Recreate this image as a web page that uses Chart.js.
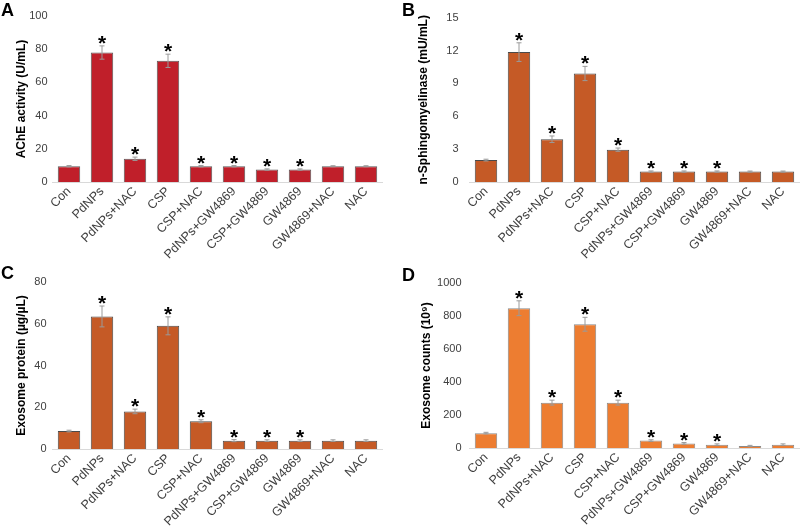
<!DOCTYPE html>
<html>
<head>
<meta charset="utf-8">
<script src="https://cdn.jsdelivr.net/npm/chart.js@4"></script>
<style>
  body { margin: 0; background: #fff; }
  #wrap { position: relative; width: 800px; height: 526px; }
  canvas { position: absolute; }
  .tag { position: absolute; font: bold 18px 'Liberation Sans', Arial, sans-serif; color: #000; line-height: 18px; }
</style>
</head>
<body>
<div id="wrap">
  <canvas id="cA" width="400" height="263" style="left:0;top:0"></canvas>
  <canvas id="cB" width="400" height="263" style="left:400px;top:0"></canvas>
  <canvas id="cC" width="400" height="263" style="left:0;top:263px"></canvas>
  <canvas id="cD" width="400" height="263" style="left:400px;top:263px"></canvas>
  <div class="tag" style="left:1px;top:1px">A</div>
  <div class="tag" style="left:402px;top:1px">B</div>
  <div class="tag" style="left:1px;top:264px">C</div>
  <div class="tag" style="left:402px;top:266px">D</div>
</div>
<script>
// groups on the x axis
const groups = ['Con', 'PdNPs', 'PdNPs+NAC', 'CSP', 'CSP+NAC', 'PdNPs+GW4869',
                'CSP+GW4869', 'GW4869', 'GW4869+NAC', 'NAC'];
// which groups get an asterisk
const starred = [false, true, true, true, true, true, true, true, false, false];

// A: AChE activity
const ache = [9.5, 78, 14, 73, 9.5, 9.5, 7.5, 7.5, 9.5, 9.5];
const acheErr = [0.4, 4, 1, 4, 0.4, 0.4, 0.4, 0.4, 0.3, 0.3];
// B: n-Sphingomyelinase
const smase = [2.0, 11.85, 3.9, 9.9, 2.95, 0.95, 0.95, 0.95, 0.95, 0.95];
const smaseErr = [0.08, 0.85, 0.3, 0.65, 0.15, 0.06, 0.06, 0.06, 0.05, 0.05];
// C: exosome protein
const protein = [8.6, 63.5, 18, 59, 13.3, 4, 4, 4, 4, 4];
const proteinErr = [0.4, 5, 1.1, 4.3, 0.7, 0.5, 0.4, 0.4, 0.4, 0.4];
// D: exosome counts
const counts = [90, 847, 275, 750, 275, 45, 28, 20, 12, 20];
const countsErr = [5, 45, 15, 42, 15, 5, 5, 5, 4, 5];

const fontFam = "'Liberation Sans', Arial, sans-serif";

// draws error bars and asterisks on top of the bars
const errorStars = {
  id: 'errorStars',
  afterDatasetsDraw(chart, args, opts) {
    const ctx = chart.ctx;
    const y = chart.scales.y;
    const meta = chart.getDatasetMeta(0);
    const vals = chart.data.datasets[0].data;
    meta.data.forEach((bar, i) => {
      const top = y.getPixelForValue(vals[i] + opts.err[i]);
      const bot = y.getPixelForValue(vals[i] - opts.err[i]);
      ctx.save();
      ctx.strokeStyle = '#9a9a9a';
      ctx.lineWidth = 1;
      ctx.beginPath();
      ctx.moveTo(bar.x, top); ctx.lineTo(bar.x, bot);
      ctx.moveTo(bar.x - 2.5, top); ctx.lineTo(bar.x + 2.5, top);
      ctx.moveTo(bar.x - 2.5, bot); ctx.lineTo(bar.x + 2.5, bot);
      ctx.stroke();
      if (starred[i]) {
        ctx.fillStyle = '#000';
        ctx.font = 'bold 21px ' + fontFam;
        ctx.textAlign = 'center';
        ctx.textBaseline = 'alphabetic';
        const m = ctx.measureText('*');
        ctx.fillText('*', bar.x, top - 2 - m.actualBoundingBoxDescent);
      }
      ctx.restore();
    });
  }
};

function panel(id, values, errs, color, border, yTitle, yMax, yStep, box) {
  new Chart(document.getElementById(id), {
    type: 'bar',
    data: {
      labels: groups,
      datasets: [{
        data: values,
        backgroundColor: color,
        borderColor: border,
        borderWidth: 1,
        barPercentage: 0.68,
        categoryPercentage: 1
      }]
    },
    options: {
      responsive: false,
      animation: false,
      layout: { padding: { left: 0, right: box.right, top: box.top, bottom: 0 } },
      plugins: {
        legend: { display: false },
        tooltip: { enabled: false },
        errorStars: { err: errs }
      },
      scales: {
        x: {
          grid: { display: false, drawTicks: false },
          border: { display: true, color: '#d9d9d9', width: 1 },
          ticks: {
            color: '#404040', font: { family: fontFam, size: 12.5 },
            minRotation: 45, maxRotation: 45, autoSkip: false, padding: 2
          },
          afterFit: s => { s.height = box.xh; }
        },
        y: {
          min: 0, max: yMax,
          grid: { display: false, drawTicks: false },
          border: { display: false },
          ticks: {
            stepSize: yStep, color: '#404040',
            font: { family: fontFam, size: 11 }, padding: box.tickPad,
            callback: v => String(v)
          },
          title: {
            display: true, text: yTitle, color: '#000',
            font: { family: fontFam, size: 12, weight: 'bold' },
            padding: { top: box.titlePad, bottom: 0 }
          },
          afterFit: s => { s.width = box.left; }
        }
      }
    },
    plugins: [errorStars]
  });
}

panel('cA', ache, acheErr, '#c01f2a', '#5a5a5a', 'AChE activity (U/mL)', 100, 20,
      { left: 52.5, right: 17.5, top: 16, xh: 81, tickPad: 5, titlePad: 14.5 });
panel('cB', smase, smaseErr, '#c55a26', '#4a4a4a', 'n-Sphingomyelinase (mU/mL)', 15, 3,
      { left: 69.5, right: 0.5, top: 16, xh: 81, tickPad: 11, titlePad: 16.5 });
panel('cC', protein, proteinErr, '#c55a26', '#4a4a4a', 'Exosome protein (\u00b5g/\u00b5L)', 80, 20,
      { left: 52.5, right: 17.5, top: 19, xh: 77, tickPad: 6, titlePad: 14.5 });
panel('cD', counts, countsErr, '#ed7d31', '#8a8a8a', 'Exosome counts (10\u2079)', 1000, 200,
      { left: 69.5, right: 0.5, top: 20, xh: 78, tickPad: 8, titlePad: 19.5 });
</script>
</body>
</html>
